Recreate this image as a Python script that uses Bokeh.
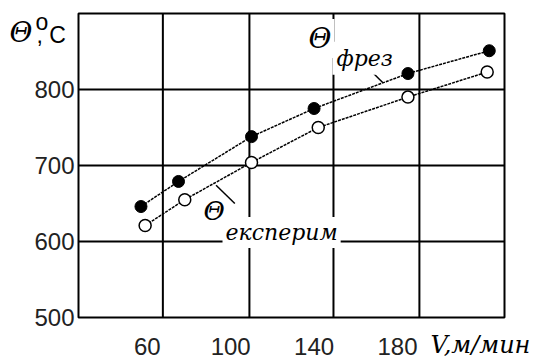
from bokeh.plotting import figure
from bokeh.models import FixedTicker, Label, Range1d
from bokeh.embed import file_html
from bokeh.resources import INLINE

# ---- data ----
v_frez = [57, 75, 110, 140, 185, 224]
t_frez = [646, 679, 738, 775, 821, 851]
v_exp = [59, 78, 110, 142, 185, 223]
t_exp = [621, 655, 704, 750, 790, 823]

x_tick_values = [60, 100, 140, 180]
y_tick_values = [500, 600, 700, 800]
x_grid_values = [67.5, 109, 149.3, 190.5]
y_grid_values = [600, 700, 800]

# chart box (data units)
x_limits = (27.05, 231.3)
y_limits = (500, 900)

leader_frez_x = [166, 173]
leader_frez_y = [828, 809]
leader_exp_x = [93, 102]
leader_exp_y = [674, 650]

SANS = "Liberation Sans"
SERIF = "DejaVu Serif"

# ---- layout: the frame fills the canvas; the chart box sits inside it ----
W, H = 534, 360
box_px = (78, 504, 13, 317)          # left, right, top, bottom in pixels
sx = (box_px[1] - box_px[0]) / (x_limits[1] - x_limits[0])
sy = (box_px[3] - box_px[2]) / (y_limits[1] - y_limits[0])
view_x = (x_limits[0] - box_px[0] / sx, x_limits[1] + (W - box_px[1]) / sx)
view_y = (y_limits[0] - (H - box_px[3]) / sy, y_limits[1] + box_px[2] / sy)

p = figure(width=W, height=H, output_backend="svg", toolbar_location=None,
           x_range=Range1d(*view_x), y_range=Range1d(*view_y),
           min_border_left=0, min_border_right=0, min_border_top=0,
           min_border_bottom=0)
p.background_fill_color = "white"
p.border_fill_color = "white"
p.outline_line_color = None
p.xgrid.visible = False
p.ygrid.visible = False

# axes (fixed inside the frame at the box edges)
p.xaxis.fixed_location = y_limits[0]
p.yaxis.fixed_location = x_limits[0]
for ax, ticks in ((p.xaxis, x_tick_values), (p.yaxis, y_tick_values)):
    ax.ticker = FixedTicker(ticks=ticks)
    ax.axis_line_color = None
    ax.major_tick_line_color = None
    ax.minor_tick_line_color = None
    ax.major_label_text_font = SANS
    ax.major_label_text_font_size = "24px"
    ax.major_label_text_color = "#222222"
p.xaxis.major_label_standoff = 14
p.yaxis.major_label_standoff = -2

# chart box and grid lines
p.segment(x0=x_grid_values, y0=[y_limits[0]] * len(x_grid_values),
          x1=x_grid_values, y1=[y_limits[1]] * len(x_grid_values),
          line_color="black", line_width=2)
p.segment(x0=[x_limits[0]] * len(y_grid_values), y0=y_grid_values,
          x1=[x_limits[1]] * len(y_grid_values), y1=y_grid_values,
          line_color="black", line_width=2)
p.quad(left=[x_limits[0]], right=[x_limits[1]], bottom=[y_limits[0]], top=[y_limits[1]],
       fill_color=None, line_color="black", line_width=2)

# series
p.line(v_frez, t_frez, line_color="black", line_width=1.5, line_dash="3 1")
p.line(v_exp, t_exp, line_color="black", line_width=1.5, line_dash="3 1")
p.scatter(v_frez, t_frez, size=12, fill_color="black", line_color="black")
p.scatter(v_exp, t_exp, size=12, fill_color="white", line_color="black", line_width=1.5)

# leader lines
p.line(leader_frez_x, leader_frez_y, line_color="black", line_width=1.5)
p.line(leader_exp_x, leader_exp_y, line_color="black", line_width=1.5)

# series labels
p.add_layout(Label(x=135.9, y=867, text="Θ", text_font=SERIF, text_font_style="italic",
                   text_font_size="28px", text_baseline="middle", text_align="left",
                   text_color="black", background_fill_color="white", padding=3))
p.add_layout(Label(x=148.8, y=841, text="фрез", text_font=SERIF, text_font_style="italic",
                   text_font_size="22px", text_baseline="alphabetic", text_align="left",
                   text_color="black", background_fill_color="white", padding=4))
p.add_layout(Label(x=87.0, y=639.5, text="Θ", text_font=SERIF, text_font_style="italic",
                   text_font_size="26px", text_baseline="middle", text_align="left",
                   text_color="black", background_fill_color="white"))
p.add_layout(Label(x=96.1, y=612, text="експерим", text_font=SERIF, text_font_style="italic",
                   text_font_size="22px", text_baseline="alphabetic", text_align="left",
                   text_color="black", background_fill_color="white", padding=3))

# axis titles (screen units: x from left, y from bottom of the canvas)
p.add_layout(Label(x=9, y=328, x_units="screen", y_units="screen", text="Θ",
                   text_font=SERIF, text_font_style="italic", text_font_size="28px",
                   text_baseline="middle", text_align="left", text_color="black"))
p.add_layout(Label(x=35, y=339, x_units="screen", y_units="screen", text="o",
                   text_font=SANS, text_font_size="23px",
                   text_baseline="middle", text_align="left", text_color="black"))
p.add_layout(Label(x=36, y=326, x_units="screen", y_units="screen", text=", C",
                   text_font=SANS, text_font_size="23px",
                   text_baseline="alphabetic", text_align="left", text_color="black"))
p.add_layout(Label(x=430, y=16, x_units="screen", y_units="screen", text="V,м/мин",
                   text_font=SERIF, text_font_style="italic", text_font_size="24px",
                   text_baseline="alphabetic", text_align="left", text_color="black"))

open("out.html", "w").write(file_html(p, INLINE))
